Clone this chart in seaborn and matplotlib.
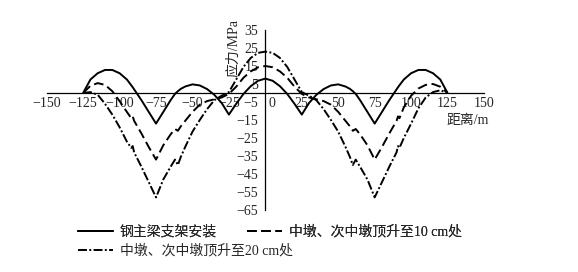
import matplotlib
matplotlib.use("Agg")
import matplotlib.pyplot as plt
import matplotlib.transforms as mtransforms
from matplotlib.lines import Line2D
import seaborn as sns

# ---- data ----
dist = [-125, -120, -115, -110, -105, -100, -95, -92, -91, -90, -85, -80, -75, -70, -65,
        -62, -60, -58, -55, -50, -45, -40, -35, -30, -25, -20, -15, -10, -5, 0,
        5, 10, 15, 20, 25, 30, 35, 40, 45, 50, 55, 58, 60, 62, 65, 70, 75, 80, 85,
        90, 91, 92, 95, 100, 105, 110, 115, 120, 125]

stress_install = [0, 7.5, 11, 12.8, 12.8, 11, 7.5, 4.3, 3.2, 2, -4, -10.5, -17, -10.5, -4,
                  -0.5, 1, 2.3, 3.6, 4.8, 4.2, 2.2, -1, -5.5, -12, -6, -0.5, 3.8, 6.8, 8,
                  6.8, 3.8, -0.5, -6, -12, -5.5, -1, 2.2, 4.2, 4.8, 3.6, 2.3, 1, -0.5, -4,
                  -10.5, -17, -10.5, -4, 2, 3.2, 4.3, 7.5, 11, 12.8, 12.8, 11, 7.5, 0]

stress_10cm = [0, 4, 5.5, 4.5, 1, -4.5, -10.5, -14, -13, -15.5, -22.5, -30, -37, -29, -23,
               -20, -21, -18.5, -15.5, -10.5, -6.5, -4.5, -3.5, -2.5, -0.5, 3.5, 8.5, 12, 14.3, 15,
               14.3, 12, 8.5, 3.5, -0.5, -2.5, -3.5, -4.5, -6.5, -10.5, -15.5, -18.5, -21, -20, -23,
               -29, -37, -30, -22.5, -15.5, -13, -14, -8, -1.5, 2.5, 4.5, 5, 3.5, 0]

stress_20cm = [0, 0.5, -1, -6, -12, -19, -27, -30.5, -29.5, -33, -41, -49.5, -58, -48, -41,
               -37, -40, -35.5, -30, -21.5, -15, -9, -4, -1.5, 0.5, 7.5, 14.5, 19.5, 22.3, 23,
               22.3, 19.5, 14.5, 7.5, 0.5, -1.5, -4, -9, -15, -21.5, -30, -35.5, -40, -37, -41,
               -48, -58, -49.5, -41, -33, -29.5, -30.5, -25, -17, -8.5, -2.5, 0.5, 1.5, 0]

labels = ["钢主梁支架安装", "中墩、次中墩顶升至10 cm处", "中墩、次中墩顶升至20 cm处"]
xticks = [-150, -125, -100, -75, -50, -25, 0, 25, 50, 75, 100, 125, 150]
xticklabels = ["−150", "−125", "−100", "−75", "−50", "−25", "0", "25", "50", "75", "100", "125", "150"]
yticks = [35, 25, 15, 5, -5, -15, -25, -35, -45, -55, -65]
yticklabels = ["35", "25", "15", "5", "−5", "−15", "−25", "−35", "−45", "−55", "−65"]

# ---- style ----
sns.set_style("white")
FONT = ["Liberation Serif", "Noto Sans CJK SC"]
plt.rcParams["font.family"] = FONT
plt.rcParams["font.size"] = 10

fig = plt.figure(figsize=(5.78, 2.72), dpi=100)
W, H = 578, 272
x0, x1 = 46.7, 484.0
ytop, ybot = 30.0, 210.0
ax = fig.add_axes([x0 / W, 1 - ybot / H, (x1 - x0) / W, (ybot - ytop) / H])
ax.set_facecolor("none")

LW = 1.4
styles = ["-", (0, (5.0, 2.3)), (0, (4.6, 1.2, 1.0, 1.2))]
series = [stress_install, stress_10cm, stress_20cm]
for s, ls in zip(series, styles):
    sns.lineplot(x=dist, y=s, ax=ax, color="black", linewidth=LW, linestyle=ls,
                 sort=False, legend=False)

ax.set_xlim(-150, 150)
ax.set_ylim(-65, 35)
for sp in ["top", "right"]:
    ax.spines[sp].set_visible(False)
ax.spines["left"].set_position(("data", 0))
ax.spines["bottom"].set_position(("data", 0))
for sp in ["left", "bottom"]:
    ax.spines[sp].set_color("black")
    ax.spines[sp].set_linewidth(0.9)

ax.set_xticks(xticks)
ax.set_xticklabels(xticklabels)
ax.set_xticks([-137.5, -112.5, -87.5, -62.5, -37.5, -12.5, 12.5, 37.5, 62.5, 87.5, 112.5, 137.5], minor=True)
ax.set_yticks(yticks)
ax.set_yticklabels(yticklabels)
ax.set_yticks([30, 20, 10, 0, -10, -20, -30, -40, -50, -60], minor=True)
ax.tick_params(axis="both", which="both", direction="in", color="black", width=0.8)
ax.tick_params(axis="both", which="major", length=4, labelsize=10)
ax.tick_params(axis="both", which="minor", length=2.5)
ax.tick_params(axis="x", which="major", pad=3)
ax.tick_params(axis="y", which="major", pad=5)
ax.grid(False)

# shift the "0" tick label to the right of the y axis
for lab in ax.get_xticklabels():
    if lab.get_text() == "0":
        lab.set_transform(lab.get_transform() + mtransforms.ScaledTranslation(7 / 100, 0, fig.dpi_scale_trans))

ax.text(138.5, -15, "距离/m", ha="center", va="center", fontsize=10, family=FONT)
ax.text(-22, 25, "应力/MPa", ha="center", va="center", rotation=90, fontsize=10,
        family=FONT, clip_on=False)

# ---- legend ----
h = [Line2D([], [], color="black", lw=LW, linestyle=ls) for ls in styles]
leg1 = fig.legend(h[:2], labels[:2], loc="center left", bbox_to_anchor=(78 / W, 1 - 232 / H),
                  ncol=2, frameon=False, borderpad=0, borderaxespad=0, handlelength=2.5,
                  handletextpad=0.5, columnspacing=2.2, prop={"family": FONT, "size": 10})
leg2 = fig.legend(h[2:], labels[2:], loc="center left", bbox_to_anchor=(78 / W, 1 - 251 / H),
                  ncol=1, frameon=False, borderpad=0, borderaxespad=0, handlelength=2.5,
                  handletextpad=0.5, prop={"family": FONT, "size": 10})
fig.add_artist(leg1)

fig.savefig("out.png", dpi=100)
